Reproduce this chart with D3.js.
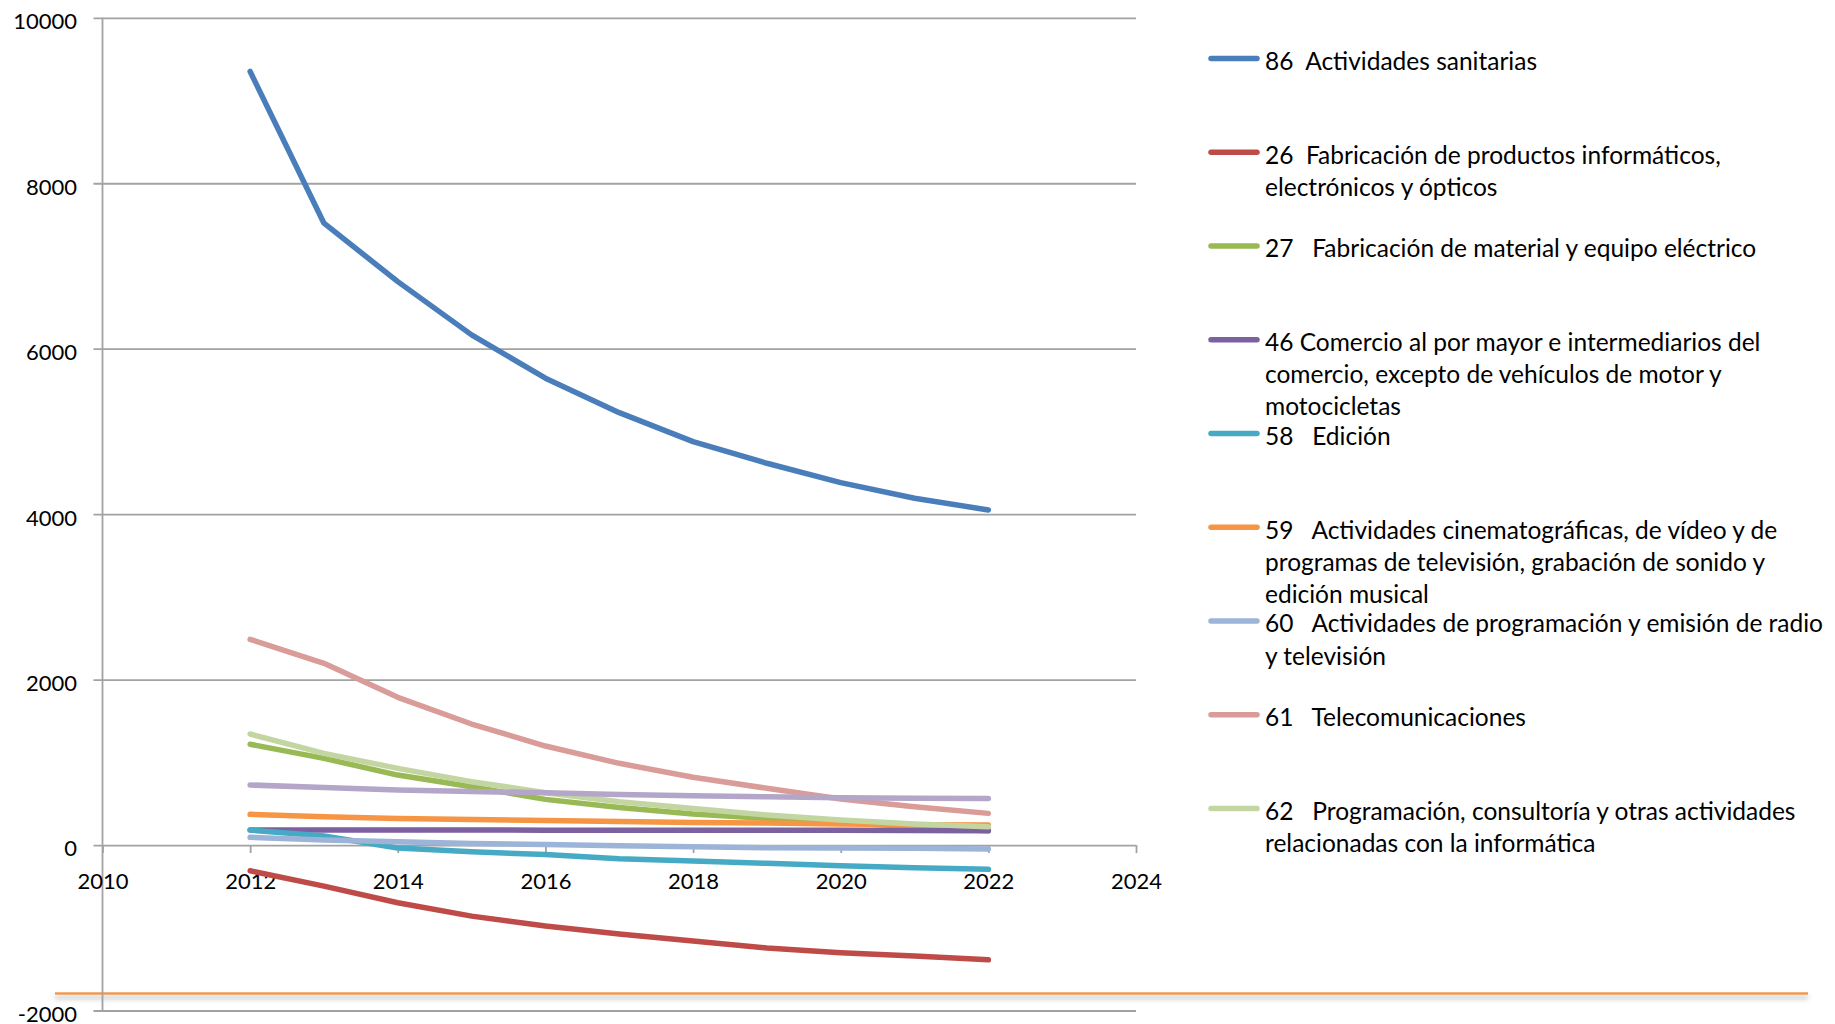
<!DOCTYPE html>
<html>
<head>
<meta charset="utf-8">
<script src="https://cdn.jsdelivr.net/npm/d3@7"></script>
<style>
  html, body { margin: 0; padding: 0; background: #fff; }
  svg { display: block; }
  text { font-family: Lato, "Open Sans", sans-serif; fill: #000; }
</style>
</head>
<body>
<svg id="chart" width="1835" height="1024"></svg>
<script>
// Years on the horizontal axis
const years = [2012, 2013, 2014, 2015, 2016, 2017, 2018, 2019, 2020, 2021, 2022];

// Series values per year
const s86 = [9351, 7517, 6811, 6167, 5643, 5227, 4877, 4615, 4381, 4192, 4051];
const s26 = [-311, -496, -697, -859, -979, -1076, -1161, -1245, -1301, -1342, -1387];
const s27 = [1218, 1048, 846, 705, 552, 455, 375, 322, 274, 222, 173];
const s46 = [182, 182, 181, 181, 180, 180, 180, 179, 178, 176, 174];
const s58 = [181, 109, -35, -81, -115, -165, -193, -221, -250, -274, -294];
const s59 = [371, 343, 322, 310, 298, 286, 274, 266, 254, 246, 242];
const s60 = [93, 60, 40, 20, 8, -8, -20, -32, -36, -40, -48];
const s61 = [2487, 2197, 1786, 1463, 1197, 988, 819, 686, 556, 463, 383];
const s62 = [1342, 1108, 927, 766, 633, 524, 443, 363, 302, 254, 222];
// tenth series, drawn but not listed in the legend
const s63 = [726, 695, 665, 647, 633, 612, 597, 584, 572, 567, 564];

// Legend labels, one array of text lines per entry
const legendLabels = [
  ["86  Actividades sanitarias"],
  ["26  Fabricación de productos informáticos,", "electrónicos y ópticos"],
  ["27   Fabricación de material y equipo eléctrico"],
  ["46 Comercio al por mayor e intermediarios del", "comercio, excepto de vehículos de motor y", "motocicletas"],
  ["58   Edición"],
  ["59   Actividades cinematográficas, de vídeo y de", "programas de televisión, grabación de sonido y", "edición musical"],
  ["60   Actividades de programación y emisión de radio", "y televisión"],
  ["61   Telecomunicaciones"],
  ["62   Programación, consultoría y otras actividades", "relacionadas con la informática"]
];

// Axis tick values
const xTicks = [2010, 2012, 2014, 2016, 2018, 2020, 2022, 2024];
const yTicks = [-2000, 0, 2000, 4000, 6000, 8000, 10000];

const series = [
  { values: s86, color: "#4A7EBB", legend: 0 },
  { values: s26, color: "#BE4B48", legend: 1 },
  { values: s27, color: "#98B954", legend: 2 },
  { values: s46, color: "#7D60A0", legend: 3 },
  { values: s58, color: "#46AAC5", legend: 4 },
  { values: s59, color: "#F69544", legend: 5 },
  { values: s60, color: "#9CB4D8", legend: 6 },
  { values: s61, color: "#D99C98", legend: 7 },
  { values: s62, color: "#C3D6A2", legend: 8 },
  { values: s63, color: "#B3A6C9", legend: null }
];

const svg = d3.select("#chart");

const x = d3.scaleLinear().domain([2010, 2024]).range([102.5, 1136]);
const y = d3.scaleLinear().domain([-2000, 10000]).range([1010.5, 17.8]);

const gridColor = "#a2a2a2";
const plainNumber = d => String(d);

// Decorative orange rule with a soft shadow near the bottom
const defs = svg.append("defs");
const f = defs.append("filter").attr("id", "ruleShadow")
  .attr("filterUnits", "userSpaceOnUse")
  .attr("x", 0).attr("y", 980).attr("width", 1835).attr("height", 40);
f.append("feDropShadow").attr("dx", 0).attr("dy", 4).attr("stdDeviation", 2.6)
  .attr("flood-color", "#000").attr("flood-opacity", 0.3);
svg.append("rect")
  .attr("x", 55).attr("y", 992.3).attr("width", 1753).attr("height", 2.4)
  .attr("fill", "#F0964A")
  .attr("filter", "url(#ruleShadow)");

// Horizontal gridlines (with left ticks)
const yAxis = d3.axisLeft(y).tickValues(yTicks).tickSize(-(x.range()[1] - x.range()[0])).tickPadding(25.5)
  .tickFormat(plainNumber);
const gy = svg.append("g").attr("transform", `translate(${x.range()[0]},0)`).call(yAxis);
gy.select(".domain").remove();
gy.selectAll(".tick line").attr("stroke", gridColor).attr("stroke-width", 1.8)
  .attr("x1", -9);
gy.selectAll(".tick text")
  .attr("font-size", 22).attr("dy", "0.36em").attr("y", 3).attr("fill", "#000");

// Vertical axis line
svg.append("line")
  .attr("x1", x(2010)).attr("x2", x(2010)).attr("y1", y(10000)).attr("y2", y(-2000))
  .attr("stroke", gridColor).attr("stroke-width", 1.8);

// Horizontal axis at zero with downward ticks
const xAxis = d3.axisBottom(x).tickValues(xTicks).tickSize(8).tickPadding(24)
  .tickFormat(plainNumber);
const gx = svg.append("g").attr("transform", `translate(0,${y(0)})`).call(xAxis);
gx.select(".domain").remove();
gx.selectAll(".tick line").attr("stroke", gridColor).attr("stroke-width", 1.8);
gx.selectAll(".tick text").attr("font-size", 22).attr("dy", "0.36em").attr("y", 36).attr("fill", "#000");

// Series lines
const line = d3.line()
  .x((d, i) => x(years[i]))
  .y(d => y(d));

svg.append("g").selectAll("path")
  .data(series)
  .join("path")
  .attr("d", d => line(d.values))
  .attr("fill", "none")
  .attr("stroke", d => d.color)
  .attr("stroke-width", 5.5)
  .attr("stroke-linecap", "round")
  .attr("stroke-linejoin", "round");

// Legend
const legendTop = 61, legendStep = 93.75, lineStep = 32.2;
const lg = svg.append("g");
series.filter(s => s.legend !== null).forEach(s => {
  const cy = legendTop + s.legend * legendStep;
  lg.append("line")
    .attr("x1", 1211).attr("x2", 1257).attr("y1", cy - 2.5).attr("y2", cy - 2.5)
    .attr("stroke", s.color).attr("stroke-width", 5.5).attr("stroke-linecap", "round");
  legendLabels[s.legend].forEach((txt, k) => {
    lg.append("text")
      .attr("x", 1265).attr("y", cy + k * lineStep).attr("dy", "0.36em")
      .attr("font-size", 24.5)
      .style("white-space", "pre")
      .attr("xml:space", "preserve")
      .text(txt);
  });
});
</script>
</body>
</html>
